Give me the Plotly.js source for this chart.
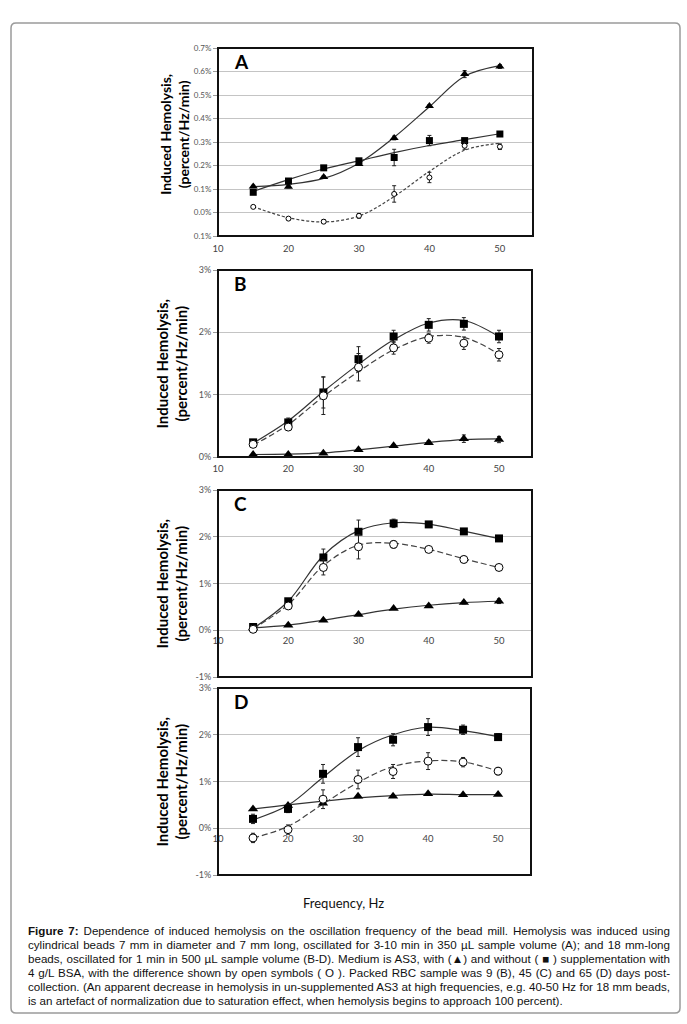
<!DOCTYPE html>
<html>
<head>
<meta charset="utf-8">
<script src="https://cdn.plot.ly/plotly-3.0.1.min.js"></script>
<style>html,body{margin:0;padding:0;background:#fff;}#chart{width:687px;height:1024px;}</style>
</head>
<body>
<div id="chart"></div>
<script>
// ---------- DATA ----------
const freq = [15, 20, 25, 30, 35, 40, 45, 50];

// Panel A (7 mm beads)
const A_tri = [0.111, 0.110, 0.151, 0.206, 0.317, 0.453, 0.589, 0.621];
const A_tri_err = [0.005, 0.005, 0.005, 0.005, 0.008, 0.006, 0.015, 0.008];
const A_sq = [0.086, 0.134, 0.190, 0.220, 0.234, 0.306, 0.306, 0.334];
const A_sq_err = [0.005, 0.005, 0.005, 0.008, 0.035, 0.022, 0.008, 0.006];
const A_circ = [0.024, -0.026, -0.039, -0.014, 0.079, 0.149, 0.284, 0.280];
const A_circ_err = [0.004, 0.005, 0.008, 0.010, 0.035, 0.022, 0.015, 0.012];
const A_tri_fit = [0.110, 0.120, 0.145, 0.210, 0.320, 0.450, 0.580, 0.625];
const A_sq_fit = [0.090, 0.140, 0.185, 0.220, 0.255, 0.285, 0.310, 0.335];
const A_circ_fit = [0.025, -0.022, -0.040, -0.015, 0.068, 0.175, 0.265, 0.295];

// Panel B (9 days)
const B_sq = [0.235, 0.555, 1.036, 1.570, 1.933, 2.120, 2.136, 1.933];
const B_sq_err = [0.03, 0.07, 0.25, 0.20, 0.10, 0.10, 0.10, 0.10];
const B_circ = [0.203, 0.480, 0.982, 1.440, 1.750, 1.906, 1.826, 1.640];
const B_circ_err = [0.03, 0.05, 0.30, 0.22, 0.10, 0.08, 0.10, 0.10];
const B_tri = [0.040, 0.040, 0.060, 0.117, 0.180, 0.230, 0.294, 0.280];
const B_tri_err = [0.01, 0.01, 0.01, 0.01, 0.02, 0.03, 0.06, 0.05];
const B_sq_fit = [0.22, 0.58, 1.05, 1.49, 1.88, 2.15, 2.19, 1.93];
const B_circ_fit = [0.19, 0.52, 0.97, 1.37, 1.72, 1.93, 1.92, 1.65];
const B_tri_fit = [0.040, 0.045, 0.065, 0.115, 0.175, 0.235, 0.280, 0.290];

// Panel C (45 days)
const C_sq = [0.070, 0.620, 1.557, 2.107, 2.286, 2.264, 2.114, 1.964];
const C_sq_err = [0.03, 0.04, 0.18, 0.25, 0.09, 0.04, 0.06, 0.04];
const C_circ = [0.020, 0.520, 1.343, 1.786, 1.836, 1.729, 1.514, 1.343];
const C_circ_err = [0.02, 0.04, 0.16, 0.26, 0.08, 0.05, 0.07, 0.05];
const C_tri = [0.050, 0.107, 0.214, 0.336, 0.464, 0.521, 0.593, 0.621];
const C_tri_err = [0.01, 0.01, 0.02, 0.02, 0.02, 0.03, 0.03, 0.05];
const C_sq_fit = [0.04, 0.62, 1.60, 2.13, 2.30, 2.27, 2.12, 1.96];
const C_circ_fit = [0.03, 0.55, 1.38, 1.82, 1.86, 1.73, 1.53, 1.34];
const C_tri_fit = [0.050, 0.110, 0.215, 0.335, 0.450, 0.535, 0.590, 0.620];

// Panel D (65 days)
const D_sq = [0.200, 0.414, 1.164, 1.736, 1.893, 2.164, 2.107, 1.950];
const D_sq_err = [0.10, 0.08, 0.20, 0.20, 0.13, 0.18, 0.10, 0.07];
const D_circ = [-0.207, -0.029, 0.621, 1.043, 1.214, 1.436, 1.414, 1.221];
const D_circ_err = [0.10, 0.10, 0.20, 0.20, 0.15, 0.18, 0.10, 0.08];
const D_tri = [0.414, 0.486, 0.536, 0.686, 0.686, 0.736, 0.714, 0.721];
const D_tri_err = [0.02, 0.02, 0.02, 0.02, 0.02, 0.02, 0.02, 0.02];
const D_sq_fit = [0.18, 0.49, 1.09, 1.66, 2.00, 2.16, 2.09, 1.96];
const D_circ_fit = [-0.21, 0.04, 0.52, 0.98, 1.32, 1.44, 1.42, 1.22];
const D_tri_fit = [0.41, 0.50, 0.58, 0.65, 0.70, 0.73, 0.72, 0.72];

// Tick labels
const xTickVals = [10, 20, 30, 40, 50];
const xTickText = ["10", "20", "30", "40", "50"];
const A_yTickVals = [-0.1, 0, 0.1, 0.2, 0.3, 0.4, 0.5, 0.6, 0.7];
const A_yTickText = ["0.1%", "0.0%", "0.1%", "0.2%", "0.3%", "0.4%", "0.5%", "0.6%", "0.7%"];
const B_yTickVals = [0, 1, 2, 3];
const B_yTickText = ["0%", "1%", "2%", "3%"];
const CD_yTickVals = [-1, 0, 1, 2, 3];
const CD_yTickText = ["-1%", "0%", "1%", "2%", "3%"];

const panelLetters = ["A", "B", "C", "D"];
const yTitle = "Induced Hemolysis,<br>(percent/Hz/min)";
const xTitle = "Frequency, Hz";
const captionLines = [
  "<b>Figure 7:</b> Dependence of induced hemolysis on the oscillation frequency of the bead mill. Hemolysis was induced using",
  "cylindrical beads 7 mm in diameter and 7 mm long, oscillated for 3-10 min in 350 µL sample volume (A); and 18 mm-long",
  "beads, oscillated for 1 min in 500 µL sample volume (B-D). Medium is AS3, with (▲) and without ( ■ ) supplementation with",
  "4 g/L BSA, with the difference shown by open symbols ( O ). Packed RBC sample was 9 (B), 45 (C) and 65 (D) days post-",
  "collection. (An apparent decrease in hemolysis in un-supplemented AS3 at high frequencies, e.g. 40-50 Hz for 18 mm beads,",
  "is an artefact of normalization due to saturation effect, when hemolysis begins to approach 100 percent)."
];

// ---------- LAYOUT HELPERS ----------
const W = 687, H = 1024;
const fx = v => v / W;
const fy = v => 1 - v / H;
const boxes = [
  {x0: 218, x1: 533, y0: 48, y1: 236, yr: [-0.1, 0.7], tv: A_yTickVals, tt: A_yTickText, free: false, tf: 8},
  {x0: 218, x1: 532, y0: 270, y1: 457, yr: [0, 3], tv: B_yTickVals, tt: B_yTickText, free: false, tf: 9},
  {x0: 218, x1: 532, y0: 490, y1: 677, yr: [-1, 3], tv: CD_yTickVals, tt: CD_yTickText, free: true, tf: 9},
  {x0: 218, x1: 531, y0: 688, y1: 875, yr: [-1, 3], tv: CD_yTickVals, tt: CD_yTickText, free: true, tf: 9}
];

const sets = [
  {tri: A_tri, triE: A_tri_err, sq: A_sq, sqE: A_sq_err, ci: A_circ, ciE: A_circ_err, triF: A_tri_fit, sqF: A_sq_fit, ciF: A_circ_fit, ms: 7, cs: 5},
  {tri: B_tri, triE: B_tri_err, sq: B_sq, sqE: B_sq_err, ci: B_circ, ciE: B_circ_err, triF: B_tri_fit, sqF: B_sq_fit, ciF: B_circ_fit, ms: 8, cs: 8},
  {tri: C_tri, triE: C_tri_err, sq: C_sq, sqE: C_sq_err, ci: C_circ, ciE: C_circ_err, triF: C_tri_fit, sqF: C_sq_fit, ciF: C_circ_fit, ms: 8, cs: 8},
  {tri: D_tri, triE: D_tri_err, sq: D_sq, sqE: D_sq_err, ci: D_circ, ciE: D_circ_err, triF: D_tri_fit, sqF: D_sq_fit, ciF: D_circ_fit, ms: 8, cs: 8}
];

const traces = [];
const layout = {
  width: W, height: H,
  margin: {l: 0, r: 0, t: 0, b: 0},
  paper_bgcolor: "#fff", plot_bgcolor: "rgba(0,0,0,0)",
  showlegend: false,
  font: {family: "Lato, 'Open Sans', sans-serif", color: "#444"},
  shapes: [], annotations: []
};

boxes.forEach((b, i) => {
  const n = i === 0 ? "" : String(i + 1);
  const xa = "x" + n, ya = "y" + n;
  const s = sets[i];
  const lineStyle = {color: "#333", width: 1.2, shape: "spline", smoothing: 1};
  // fitted curves
  traces.push({x: freq, y: s.triF, xaxis: xa, yaxis: ya, mode: "lines", line: lineStyle, hoverinfo: "skip"});
  traces.push({x: freq, y: s.sqF, xaxis: xa, yaxis: ya, mode: "lines", line: lineStyle, hoverinfo: "skip"});
  traces.push({x: freq, y: s.ciF, xaxis: xa, yaxis: ya, mode: "lines",
    line: Object.assign({}, lineStyle, {dash: i === 0 ? "3px,2px" : "6px,3px", color: "#444"}), hoverinfo: "skip"});
  const eb = arr => ({type: "data", array: arr, visible: true, color: "#222", thickness: 1, width: 2});
  // markers
  traces.push({x: freq, y: s.tri, error_y: eb(s.triE), xaxis: xa, yaxis: ya, mode: "markers",
    marker: {symbol: "triangle-up", size: s.ms + 1, color: "#000"}});
  traces.push({x: freq, y: s.sq, error_y: eb(s.sqE), xaxis: xa, yaxis: ya, mode: "markers",
    marker: {symbol: "square", size: s.ms, color: "#000"}});
  traces.push({x: freq, y: s.ci, error_y: eb(s.ciE), xaxis: xa, yaxis: ya, mode: "markers",
    marker: {symbol: "circle", size: s.cs, color: "#fff", line: {color: "#000", width: 1}}});

  const ydom = [fy(b.y1), fy(b.y0)];
  const xaxis = {
    domain: [fx(b.x0), fx(b.x1)], range: [10, 54.7],
    tickvals: xTickVals, ticktext: xTickText,
    tickfont: {size: 9.5, color: "#444"},
    showgrid: false, zeroline: false, showline: false, ticks: "",
    fixedrange: true
  };
  if (b.free) {
    xaxis.anchor = "free";
    xaxis.position = ydom[0] + (0 - b.yr[0]) / (b.yr[1] - b.yr[0]) * (ydom[1] - ydom[0]);
    xaxis.ticklabelstandoff = 3;
  } else {
    xaxis.anchor = ya;
    xaxis.ticklabelstandoff = i === 0 ? 5 : 4;
  }
  const yaxis = {
    domain: ydom, anchor: xa, range: b.yr,
    tickvals: b.tv, ticktext: b.tt,
    tickfont: {size: b.tf, color: "#555"},
    showgrid: true, gridcolor: "#c4c4c4", gridwidth: 1,
    zeroline: false, showline: false,
    ticks: "outside", ticklen: 4, tickcolor: "#999",
    fixedrange: true
  };
  layout["xaxis" + n] = xaxis;
  layout["yaxis" + n] = yaxis;

  // frame
  layout.shapes.push({type: "rect", xref: xa + " domain", yref: ya + " domain", x0: 0, x1: 1, y0: 0, y1: 1,
    line: {color: "#111", width: 2}, fillcolor: "rgba(0,0,0,0)", layer: "above"});

  // panel letter
  layout.annotations.push({text: "<b>" + panelLetters[i] + "</b>", xref: xa + " domain", yref: ya + " domain",
    x: 0.045, y: 0.93, xanchor: "left", yanchor: "middle", showarrow: false,
    font: {size: 19, color: "#000", family: "Lato, 'Open Sans', sans-serif"}});

  // y title
  layout.annotations.push({text: "<b>" + yTitle + "</b>", xref: "paper", yref: "paper",
    x: fx(i === 0 ? 175 : 171), y: (ydom[0] + ydom[1]) / 2 + (i === 0 ? 0.007 : 0), xanchor: "center", yanchor: "middle",
    textangle: -90, showarrow: false,
    font: {size: i === 0 ? 14 : 15, color: "#000", family: "Lato, 'Open Sans', sans-serif"}});
});

// x title
layout.annotations.push({text: xTitle, xref: "paper", yref: "paper", x: fx(343), y: fy(903),
  xanchor: "center", yanchor: "middle", showarrow: false,
  font: {size: 13, color: "#111", family: "Lato, 'Open Sans', sans-serif"}});

// caption
const capTop = 930, capStep = 14;
captionLines.forEach((t, k) => {
  layout.annotations.push({text: t, xref: "paper", yref: "paper", x: fx(26), y: fy(capTop + k * capStep),
    xanchor: "left", yanchor: "middle", align: "left", showarrow: false,
    font: {size: 11.6, color: "#111", family: "'Liberation Sans', Arial, sans-serif"}});
});

// outer rounded frame
const L = 11, T = 23, R = 680, B = 1013, rr = 5;
layout.shapes.push({type: "path", xref: "paper", yref: "paper", layer: "below",
  path: `M ${fx(L + rr)},${fy(T)} L ${fx(R - rr)},${fy(T)} Q ${fx(R)},${fy(T)} ${fx(R)},${fy(T + rr)} ` +
        `L ${fx(R)},${fy(B - rr)} Q ${fx(R)},${fy(B)} ${fx(R - rr)},${fy(B)} ` +
        `L ${fx(L + rr)},${fy(B)} Q ${fx(L)},${fy(B)} ${fx(L)},${fy(B - rr)} ` +
        `L ${fx(L)},${fy(T + rr)} Q ${fx(L)},${fy(T)} ${fx(L + rr)},${fy(T)} Z`,
  line: {color: "#9a9a9a", width: 1.5}, fillcolor: "rgba(0,0,0,0)"});

Plotly.newPlot("chart", traces, layout, {staticPlot: true, displayModeBar: false}).then(gd => {
  // justify caption lines (all but the last) to the right edge
  const target = 668 - 26;
  const nAnn = layout.annotations.length;
  const firstCap = nAnn - captionLines.length;
  for (let k = 0; k < captionLines.length - 1; k++) {
    const g = gd.querySelector('.annotation[data-index="' + (firstCap + k) + '"] text.annotation-text');
    if (!g) continue;
    const w = g.getComputedTextLength();
    const spaces = (g.textContent.match(/ /g) || []).length;
    if (spaces > 0 && w < target) {
      g.style.wordSpacing = ((target - w) / spaces) + "px";
    }
  }
});
</script>
</body>
</html>
